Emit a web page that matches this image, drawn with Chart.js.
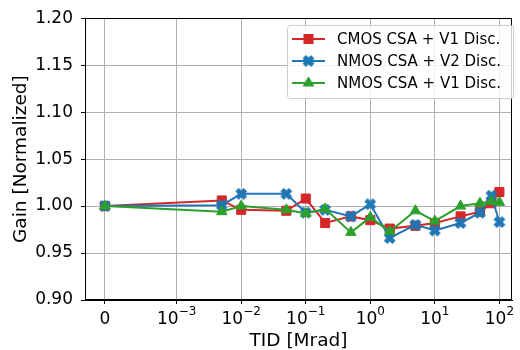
<!DOCTYPE html>
<html>
<head>
<meta charset="utf-8">
<script src="https://cdn.jsdelivr.net/npm/chart.js@4/dist/chart.umd.min.js"></script>
<style>
html, body { margin: 0; padding: 0; background: #fff; }
#wrap { width: 520px; height: 350px; }
</style>
</head>
<body>
<div id="wrap"><canvas id="chart1"></canvas></div>
<script>
// dose points in Mrad (0 = before irradiation)
var tid = [0, 0.005, 0.01, 0.05, 0.1, 0.2, 0.5, 1, 2, 5, 10, 25, 50, 75, 100];

var cmosV1 = [1.000, 1.006, 0.996, 0.995, 1.008, 0.982, 0.989, 0.985, 0.976, 0.979, 0.982, 0.989, 0.994, 1.003, 1.015];
var nmosV2 = [1.000, 1.001, 1.013, 1.013, 0.993, 0.996, 0.989, 1.002, 0.966, 0.980, 0.974, 0.982, 0.993, 1.011, 0.983];
var nmosV1 = [1.000, 0.994, 1.000, 0.996, 0.992, 0.997, 0.972, 0.988, 0.973, 0.995, 0.984, 1.000, 1.003, 1.005, 1.004];

var seriesNames = ["CMOS CSA + V1 Disc.", "NMOS CSA + V2 Disc.", "NMOS CSA + V1 Disc."];
var xTickDoses = [0, 0.001, 0.01, 0.1, 1, 10, 100];
var yTicks = [0.90, 0.95, 1.00, 1.05, 1.10, 1.15, 1.20];

var RED = "#d62728", BLUE = "#1f77b4", GREEN = "#2ca02c";
var FONT = "'DejaVu Sans', sans-serif";

// symlog-ish axis: log10 for positive doses, zero sits a bit left of 1e-3
var ZERO_POS = -4.112;
function xpos(v) { return v === 0 ? ZERO_POS : Math.log10(v); }
function pts(vals) {
    return tid.map(function (t, i) { return { x: xpos(t), y: vals[i] }; });
}

// filled "X" marker like matplotlib's
function xMarker(color, s) {
    var n = Math.ceil(s) + 3;
    var c = document.createElement("canvas");
    c.width = n; c.height = n;
    var g = c.getContext("2d");
    g.translate(n / 2, n / 2);
    g.rotate(Math.PI / 4);
    var p = [[-1, -3], [1, -3], [1, -1], [3, -1], [3, 1], [1, 1], [1, 3], [-1, 3], [-1, 1], [-3, 1], [-3, -1], [-1, -1]];
    g.beginPath();
    p.forEach(function (q, i) {
        var x = q[0] / 6 * s, y = q[1] / 6 * s;
        if (i === 0) g.moveTo(x, y); else g.lineTo(x, y);
    });
    g.closePath();
    g.fillStyle = color;
    g.fill();
    g.lineWidth = 1;
    g.strokeStyle = color;
    g.stroke();
    return c;
}
var blueX = xMarker(BLUE, 11);

function drawMarker(ctx, kind, color, x, y) {
    ctx.fillStyle = color;
    ctx.strokeStyle = color;
    ctx.lineWidth = 1;
    if (kind === "rect") {
        ctx.fillRect(x - 4.5, y - 4.5, 9, 9);
        ctx.strokeRect(x - 4.5, y - 4.5, 9, 9);
    } else if (kind === "tri") {
        ctx.beginPath();
        ctx.moveTo(x, y - 6);
        ctx.lineTo(x + 5.2, y + 3);
        ctx.lineTo(x - 5.2, y + 3);
        ctx.closePath();
        ctx.fill();
        ctx.stroke();
    } else {
        ctx.drawImage(blueX, x - blueX.width / 2, y - blueX.height / 2);
    }
}

var decor = {
    id: "decor",
    afterDraw: function (chart) {
        var ctx = chart.ctx, a = chart.chartArea, xs = chart.scales.x;
        ctx.save();
        // box spines
        ctx.strokeStyle = "#000";
        ctx.lineWidth = 1;
        ctx.strokeRect(Math.round(a.left) + 0.5, Math.round(a.top) + 0.5,
            Math.round(a.right - a.left) - 1, Math.round(a.bottom - a.top) - 1);

        // x tick labels with superscripts
        ctx.fillStyle = "#000";
        ctx.textBaseline = "alphabetic";
        xTickDoses.forEach(function (d) {
            var px = xs.getPixelForValue(xpos(d));
            if (d === 0) {
                ctx.font = "17px " + FONT;
                ctx.textAlign = "center";
                ctx.fillText("0", px, 324);
                return;
            }
            var ex = Math.round(Math.log10(d));
            var exTxt = (ex < 0 ? "\u2212" : "") + Math.abs(ex);
            ctx.font = "17px " + FONT;
            var w1 = ctx.measureText("10").width;
            ctx.font = "12px " + FONT;
            var w2 = ctx.measureText(exTxt).width;
            var x0 = px - (w1 + w2) / 2;
            ctx.textAlign = "left";
            ctx.font = "17px " + FONT;
            ctx.fillText("10", x0, 324);
            ctx.font = "12px " + FONT;
            ctx.fillText(exTxt, x0 + w1, 315);
        });

        // legend
        var lx = 287.5, ly = 25.5, lw = 226, lh = 73;
        ctx.beginPath();
        ctx.roundRect(lx, ly, lw, lh, 3);
        ctx.fillStyle = "rgba(255,255,255,0.8)";
        ctx.fill();
        ctx.strokeStyle = "#cccccc";
        ctx.stroke();
        var kinds = ["rect", "x", "tri"], cols = [RED, BLUE, GREEN];
        seriesNames.forEach(function (name, i) {
            var ry = 39 + i * 22;
            ctx.strokeStyle = cols[i];
            ctx.lineWidth = 2;
            ctx.beginPath();
            ctx.moveTo(292, ry);
            ctx.lineTo(325, ry);
            ctx.stroke();
            drawMarker(ctx, kinds[i], cols[i], 308.5, ry);
            ctx.fillStyle = "#000";
            ctx.font = "15px " + FONT;
            ctx.textAlign = "left";
            ctx.fillText(name, 337, ry + 5);
        });
        ctx.restore();
    }
};

Chart.defaults.font.family = FONT;
Chart.defaults.color = "#000";

var gridOpts = { color: "#b0b0b0", lineWidth: 1, tickColor: "#000", tickLength: 4, drawTicks: true };

var myChart = new Chart(document.getElementById("chart1"), {
    type: "line",
    data: {
        datasets: [
            {
                label: seriesNames[0], data: pts(cmosV1),
                borderColor: RED, backgroundColor: RED, borderWidth: 2,
                pointStyle: "rect", pointRadius: 6.4, pointBorderWidth: 1,
                pointBackgroundColor: RED, pointBorderColor: RED, order: 3
            },
            {
                label: seriesNames[1], data: pts(nmosV2),
                borderColor: BLUE, backgroundColor: BLUE, borderWidth: 2,
                pointStyle: blueX, pointRadius: 6, order: 2
            },
            {
                label: seriesNames[2], data: pts(nmosV1),
                borderColor: GREEN, backgroundColor: GREEN, borderWidth: 2,
                pointStyle: "triangle", pointRadius: 6, pointBorderWidth: 1,
                pointBackgroundColor: GREEN, pointBorderColor: GREEN, order: 1
            }
        ]
    },
    options: {
        responsive: true,
        maintainAspectRatio: false,
        animation: false,
        events: [],
        layout: { padding: { top: 17, right: 5, left: 0, bottom: 0 } },
        plugins: { legend: { display: false }, tooltip: { enabled: false } },
        scales: {
            x: {
                type: "linear",
                min: -4.42,
                max: 2.195,
                afterBuildTicks: function (s) {
                    s.ticks = xTickDoses.map(function (d) { return { value: xpos(d) }; });
                },
                afterFit: function (s) { s.height = 50; },
                grid: gridOpts,
                border: { color: "#000", width: 1 },
                ticks: { autoSkip: false, maxRotation: 0, callback: function () { return ""; } },
                title: { display: true, text: "TID [Mrad]", font: { size: 18.5, lineHeight: 1 }, padding: { top: 0, bottom: 0 } }
            },
            y: {
                min: 0.9,
                max: 1.2,
                afterBuildTicks: function (s) {
                    s.ticks = yTicks.map(function (v) { return { value: v }; });
                },
                afterFit: function (s) { s.width = 85; },
                grid: gridOpts,
                border: { color: "#000", width: 1 },
                ticks: { font: { size: 17 }, padding: 8, callback: function (v) { return v.toFixed(2); } },
                title: { display: true, text: "Gain [Normalized]", font: { size: 18.5, lineHeight: 1 }, padding: { top: 12, bottom: 0 } }
            }
        }
    },
    plugins: [decor]
});
</script>
</body>
</html>
